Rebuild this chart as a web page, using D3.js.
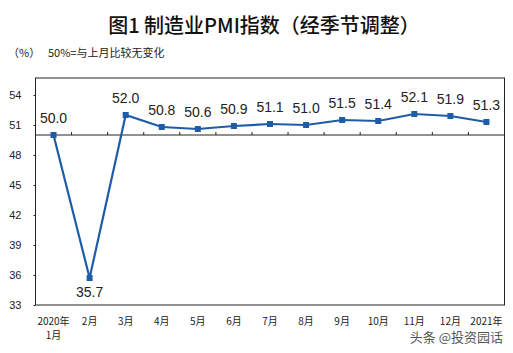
<!DOCTYPE html>
<html><head><meta charset="utf-8">
<script src="https://cdn.jsdelivr.net/npm/d3@7"></script>
<style>body{margin:0;background:#fff}svg{display:block}</style>
</head><body><svg id="c" width="513" height="353"></svg>
<script>
const months = ["2020年|1月","2月","3月","4月","5月","6月","7月","8月","9月","10月","11月","12月","2021年"];
const pmi = [50.0,35.7,52.0,50.8,50.6,50.9,51.1,51.0,51.5,51.4,52.1,51.9,51.3];
const yTicks = [33,36,39,42,45,48,51,54];
const title = "图1 制造业PMI指数（经季节调整）";
const unitLabel = "（%）";
const note = "50%=与上月比较无变化";
const watermark = "头条 @投资园话";

const svg = d3.select("#c");
const L = 35.5, R = 504.5, B = 305, T = 78;
const x = d3.scaleBand().domain(months).range([L, R]);
const y = d3.scaleLinear().domain([33, 54]).range([B, 95]);
const cx = d => x(d) + x.bandwidth()/2;
const blue = "#1f5ca8";

svg.append("text").attr("x", 264).attr("y", 33).attr("text-anchor","middle")
  .attr("font-family","'Noto Sans CJK SC'").attr("font-weight",500).attr("font-size",20)
  .attr("fill","#111").text(title);
svg.append("text").attr("x", 8).attr("y", 57).attr("font-family","'Noto Sans CJK SC'")
  .attr("font-size",11).attr("fill","#222").text(unitLabel);
svg.append("text").attr("x", 48).attr("y", 57).attr("font-family","'Noto Sans CJK SC'")
  .attr("font-size",11).attr("fill","#222").text(note);

// plot box
svg.append("rect").attr("x", L).attr("y", T).attr("width", R-L).attr("height", B-T)
  .attr("fill","none").attr("stroke","#222").attr("stroke-width",1);

// y axis
const yAxis = d3.axisLeft(y).tickValues(yTicks).tickSize(2).tickPadding(12);
const ya = svg.append("g").attr("transform", `translate(${L},0)`).call(yAxis);
ya.select(".domain").remove();
ya.selectAll("line").attr("stroke","#222");
ya.selectAll("text").attr("font-family","'Liberation Sans'").attr("font-size",11).attr("fill","#222");

// 50 baseline with category ticks
const xa = d3.axisTop(x).tickSize(0).tickFormat("");
const xg = svg.append("g").attr("transform", `translate(0,${y(50)})`).call(xa);
xg.select(".domain").attr("stroke","#222").attr("d", `M${L},0H${R}`);
xg.selectAll(".tick").remove();
svg.append("g").selectAll("line").data(months.slice(1)).join("line")
  .attr("x1", d => x(d)).attr("x2", d => x(d))
  .attr("y1", y(50)).attr("y2", y(50)-3).attr("stroke","#222");

// x labels
const xl = svg.append("g").attr("font-family","'Noto Sans CJK SC'").attr("font-size",10).attr("fill","#222");
months.forEach(m => {
  const parts = m.split("|");
  parts.forEach((p,i) => {
    xl.append("text").attr("x", cx(m)).attr("y", 325 + i*14).attr("text-anchor","middle").text(p);
  });
});

// line
const line = d3.line().x((d,i) => cx(months[i])).y(d => y(d));
svg.append("path").datum(pmi).attr("d", line).attr("fill","none").attr("stroke",blue).attr("stroke-width",2.2);
svg.append("g").selectAll("rect").data(pmi).join("rect")
  .attr("x", (d,i) => cx(months[i]) - 3).attr("y", d => y(d) - 3)
  .attr("width",6).attr("height",6).attr("fill",blue);

// data labels
svg.append("g").selectAll("text").data(pmi).join("text")
  .attr("x", (d,i) => cx(months[i]))
  .attr("y", (d,i) => i === 1 ? y(d) + 19 : y(d) - 12)
  .attr("text-anchor","middle").attr("font-family","'Liberation Sans'").attr("font-size",14)
  .attr("fill","#222").text(d => d.toFixed(1));

svg.append("text").attr("x", 503).attr("y", 342).attr("text-anchor","end")
  .attr("font-family","'Noto Sans CJK SC'").attr("font-size",13).attr("fill","#555").text(watermark);
</script></body></html>
